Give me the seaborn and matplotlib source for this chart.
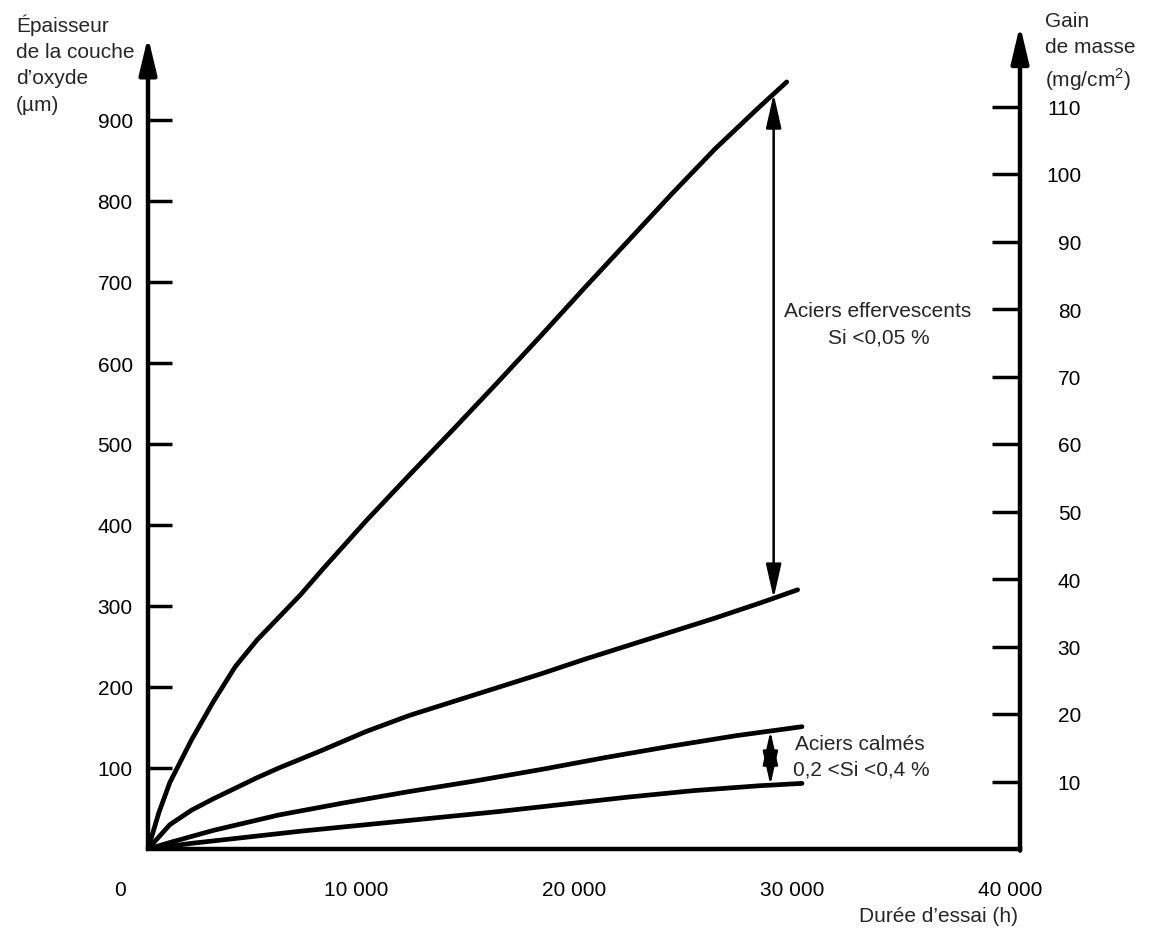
import numpy as np
import pandas as pd
import matplotlib
matplotlib.use("Agg")
import matplotlib.pyplot as plt
import matplotlib.transforms as mtransforms
import seaborn as sns

# Oxide layer thickness (µm) versus test duration (h)
h_eff_hi = [0, 500, 1000, 2000, 3000, 4000, 5000, 6000, 7000, 8000, 10000,
            12000, 14000, 16000, 18000, 20000, 22000, 24000, 26000, 28000, 29300]
um_eff_hi = [0, 45, 82, 135, 182, 225, 258, 286, 314, 345, 405,
             462, 518, 575, 633, 692, 750, 808, 864, 915, 947]

h_eff_lo = [0, 1000, 2000, 3000, 4000, 5000, 6000, 8000, 10000, 12000,
            14000, 16000, 18000, 20000, 22000, 24000, 26000, 28000, 29800]
um_eff_lo = [0, 30, 48, 62, 75, 88, 100, 122, 145, 165,
             182, 199, 216, 234, 251, 268, 285, 303, 320]

h_calm_hi = [0, 1000, 3000, 6000, 9000, 12000, 15000, 18000, 21000, 24000, 27000, 30000]
um_calm_hi = [0, 8, 23, 42, 57, 71, 84, 98, 113, 127, 140, 151]

h_calm_lo = [0, 2000, 4000, 7000, 10000, 13000, 16000, 19000, 22000, 25000, 28000, 30000]
um_calm_lo = [0, 7, 13, 22, 30, 38, 46, 55, 64, 72, 78, 81]

x_ticks = [0, 10000, 20000, 30000, 40000]
x_tick_labels = ["0", "10 000", "20 000", "30 000", "40 000"]
y_ticks = [100, 200, 300, 400, 500, 600, 700, 800, 900]
y2_ticks = [10, 20, 30, 40, 50, 60, 70, 80, 90, 100, 110]

series = {
    "eff_hi": (h_eff_hi, um_eff_hi),
    "eff_lo": (h_eff_lo, um_eff_lo),
    "calm_hi": (h_calm_hi, um_calm_hi),
    "calm_lo": (h_calm_lo, um_calm_lo),
}
df = pd.concat(
    [pd.DataFrame({"h": h, "um": v, "serie": k}) for k, (h, v) in series.items()],
    ignore_index=True,
)

sns.set_theme(style="white")
plt.rcParams["font.family"] = ["Liberation Sans", "DejaVu Sans"]
plt.rcParams["mathtext.fontset"] = "custom"
plt.rcParams["mathtext.rm"] = "Liberation Sans"

W, H = 1155, 945
fig = plt.figure(figsize=(W / 100, H / 100), dpi=100)
ax = fig.add_axes([148 / W, (H - 850) / H, (1020 - 148) / W, 810 / H])

sns.lineplot(data=df, x="h", y="um", units="serie", estimator=None, sort=False,
             color="black", lw=3.4, ax=ax, legend=False)

ax.set_xlim(0, 40000)
ax.set_ylim(0, 1000)
ax.set_xlabel("")
ax.set_ylabel("")
for s in ["top", "right", "left"]:
    ax.spines[s].set_visible(False)
ax.spines["bottom"].set_linewidth(3.2)
ax.spines["bottom"].set_color("black")

fs = 15
ax.set_xticks(x_ticks)
ax.set_xticklabels(x_tick_labels, fontsize=fs)
ax.set_yticks(y_ticks)
ax.set_yticklabels([str(v) for v in y_ticks], fontsize=fs)
ax.tick_params(axis="x", direction="in", length=20, width=2, pad=22, colors="black")
ax.tick_params(axis="y", direction="in", length=17, width=2.5, pad=11, colors="black")

# Numbers under the time axis sit slightly left of their ticks
for lab in ax.get_xticklabels():
    dx = -28 if lab.get_text() == "0" else -10
    lab.set_transform(lab.get_transform() +
                      mtransforms.ScaledTranslation(dx / 100, 0, fig.dpi_scale_trans))

ax2 = ax.twinx()
ax2.set_ylim(0, 120)
for s in ["top", "right", "left", "bottom"]:
    ax2.spines[s].set_visible(False)
ax2.set_yticks(y2_ticks)
ax2.set_yticklabels([str(v) for v in y2_ticks], fontsize=fs)
ax2.tick_params(axis="y", direction="in", length=20, width=2.5, pad=44, colors="black")
for t in ax2.get_yticklabels():
    t.set_horizontalalignment("right")

# Axis lines with arrowheads
axis_arrow = dict(arrowstyle="-|>,head_length=1.6,head_width=0.38",
                  lw=3.2, color="black", mutation_scale=14, shrinkA=0, shrinkB=0)
ax.annotate("", xy=(0, 1.003), xytext=(0, 0), xycoords="axes fraction",
            arrowprops=axis_arrow, annotation_clip=False)
ax.annotate("", xy=(1, 1.017), xytext=(1, -0.002), xycoords="axes fraction",
            arrowprops=axis_arrow, annotation_clip=False)

# Spread arrows between the curves of each steel family
def spread_arrow(x, hi, lo):
    y_hi = np.interp(x, *hi)
    y_lo = np.interp(x, *lo)
    ax.annotate("", xy=(x, y_hi), xytext=(x, y_lo),
                arrowprops=dict(arrowstyle="<|-|>,head_length=1.6,head_width=0.36",
                                lw=1.8, color="black", mutation_scale=13,
                                shrinkA=0, shrinkB=0))

spread_arrow(28700, series["eff_hi"], series["eff_lo"])
spread_arrow(28550, series["calm_hi"], series["calm_lo"])

fig.text(878 / W, 1 - 312 / H, "Aciers effervescents", fontsize=fs,
         ha="center", va="center")
fig.text(879 / W, 1 - 338 / H, "Si <0,05 %", fontsize=fs, ha="center", va="center")
fig.text(795 / W, 1 - 745 / H, "Aciers calmés", fontsize=fs, ha="left", va="center")
fig.text(793 / W, 1 - 770 / H, "0,2 <Si <0,4 %", fontsize=fs, ha="left", va="center")

fig.text(16 / W, 1 - 14 / H, "Épaisseur\nde la couche\nd’oxyde\n(µm)", fontsize=fs,
         ha="left", va="top", linespacing=1.5)
fig.text(1045 / W, 1 - 12 / H, "Gain\nde masse\n(mg/cm$^{2}$)", fontsize=fs,
         ha="left", va="top", linespacing=1.45)
fig.text(1018 / W, 1 - 917 / H, "Durée d’essai (h)", fontsize=fs, ha="right",
         va="center")

fig.savefig("out.png", dpi=100, facecolor="white")
